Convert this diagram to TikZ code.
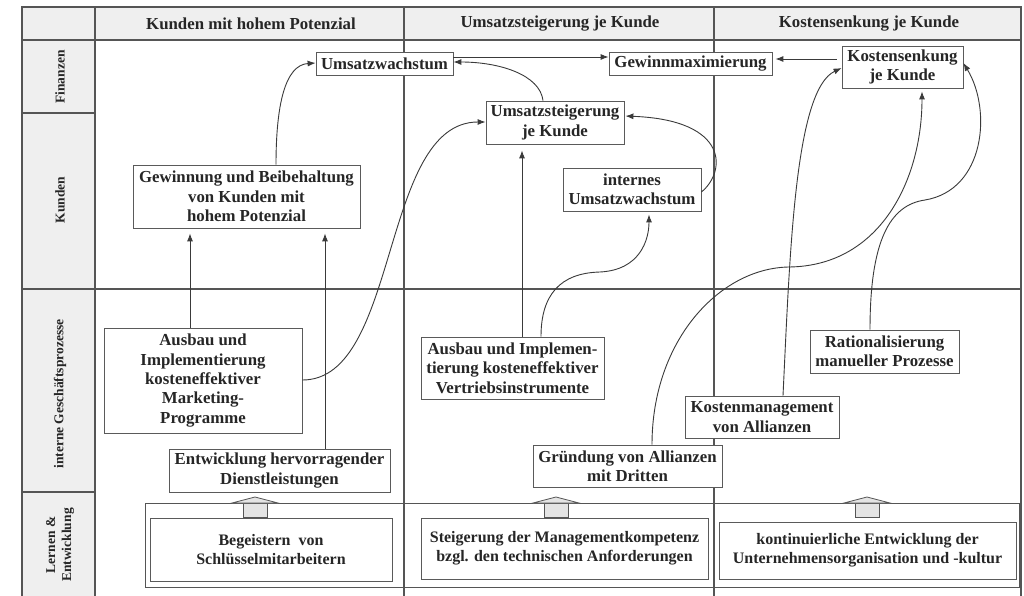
\documentclass[tikz,border=0pt]{standalone}
\usepackage{fontspec}
\setmainfont{Liberation Serif}
\usetikzlibrary{arrows.meta}
\definecolor{hdrc}{HTML}{EFEFEF}
\definecolor{gridc}{HTML}{555555}
\definecolor{boxc}{HTML}{5A5A5A}
\definecolor{linec}{HTML}{3A3A3A}
\definecolor{txtc}{HTML}{262626}
\definecolor{housec}{HTML}{E4E4E4}
\newcommand\mynodefont{\fontsize{16.8}{19.3}\selectfont\bfseries}
\newcommand\mybotfont{\fontsize{16}{18.7}\selectfont\bfseries}
\newcommand\mylabfont{\fontsize{13.5}{16}\selectfont\bfseries}
\tikzset{
  gridline/.style={draw=gridc, line width=1.1pt},
  thinline/.style={draw=gridc, line width=0.8pt},
  box/.style={draw=boxc, line width=0.8pt, fill=white, align=center, inner sep=0pt, font=\mynodefont, text=txtc},
  botbox/.style={box, font=\mybotfont},
  hdrtxt/.style={font=\mynodefont, text=txtc, inner sep=0pt},
  labtxt/.style={font=\mylabfont, text=txtc, inner sep=0pt, rotate=90, align=center},
  conn/.style={draw=linec, line width=0.9pt, -{Latex[length=8pt,width=6pt]}},
}
\begin{document}
\begin{tikzpicture}[x=1pt,y=-1pt]
\useasboundingbox (0,0) rectangle (1024,596);
\fill[white] (0,0) rectangle (1024,596);
% grid
\fill[hdrc] (22,7) rectangle (1021,40);
\fill[hdrc] (22,40) rectangle (95,596);
\draw[gridline] (22,596) -- (22,7) -- (1021,7) -- (1021,596);
\draw[gridline] (22,40) -- (1021,40);
\draw[gridline] (95,7) -- (95,596);
\draw[gridline] (404,7) -- (404,596);
\draw[gridline] (714,7) -- (714,596);
\draw[gridline] (22,113) -- (95,113);
\draw[gridline] (22,289) -- (1021,289);
\draw[gridline] (22,492) -- (95,492);
% headers
\node[hdrtxt] (h1) at (251,24) {Kunden mit hohem Potenzial};
\node[hdrtxt] (h2) at (560,24) {Umsatzsteigerung je Kunde};
\node[hdrtxt] (h3) at (869,24) {Kostensenkung je Kunde};
% row labels
\node[labtxt] (l1) at (60,77) {Finanzen};
\node[labtxt] (l2) at (60,200) {Kunden};
\node[labtxt] (l3) at (60,394) {interne Geschäftsprozesse};
\node[labtxt] (l4) at (60,545) {Lernen \&\\Entwicklung};
% learning frame
\draw[thinline] (145,503) rectangle (1019,587);
% house arrows
\foreach \cx in {255,556,867}{
  \draw[thinline, fill=housec] (\cx-12,503) rectangle (\cx+12,517);
  \draw[thinline, fill=housec] (\cx-23,503) -- (\cx,497) -- (\cx+23,503) -- cycle;
}
% nodes
\node[box, minimum width=137pt, minimum height=23pt] (umw) at (384.5,63.5) {Umsatzwachstum};
\node[box, minimum width=163pt, minimum height=23pt] (gmax) at (690.5,63.5) {Gewinnmaximierung};
\node[box, minimum width=121pt, minimum height=42pt] (kos) at (902.5,67) {Kostensenkung\\je Kunde};
\node[box, minimum width=138pt, minimum height=43pt] (usk) at (555,122.5) {Umsatzsteigerung\\je Kunde};
\node[box, minimum width=138pt, minimum height=43pt] (iuw) at (632,189.5) {internes\\Umsatzwachstum};
\node[box, minimum width=227pt, minimum height=63pt] (gew) at (246.5,196.5) {Gewinnung und Beibehaltung\\von Kunden mit\\hohem Potenzial};
\node[box, minimum width=198pt, minimum height=105pt] (mkt) at (203,380.5) {Ausbau und\\Implementierung\\kosteneffektiver\\Marketing-\\Programme};
\node[box, minimum width=221pt, minimum height=43pt] (ent) at (279.5,470.5) {Entwicklung hervorragender\\Dienstleistungen};
\node[box, minimum width=183pt, minimum height=62pt] (ver) at (512.5,368) {Ausbau und Implemen-\\tierung kosteneffektiver\\Vertriebsinstrumente};
\node[box, minimum width=189pt, minimum height=42pt] (gru) at (627.5,466) {Gründung von Allianzen\\mit Dritten};
\node[box, minimum width=154pt, minimum height=42pt] (kma) at (762,417) {Kostenmanagement\\von Allianzen};
\node[box, minimum width=149pt, minimum height=43pt] (rat) at (884.5,351.5) {Rationalisierung\\manueller Prozesse};
\node[botbox, minimum width=242pt, minimum height=63pt] (bg) at (271,549.5) {Begeistern~~von\\Schlüsselmitarbeitern};
\node[botbox, minimum width=287pt, minimum height=61pt] (stg) at (564.5,548.5) {Steigerung der Managementkompetenz\\bzgl. den technischen Anforderungen};
\node[botbox, minimum width=297pt, minimum height=57pt] (kon) at (867.5,550.5) {kontinuierliche Entwicklung der\\Unternehmensorganisation und -kultur};
% connectors
\draw[conn] ([yshift=6.5pt]umw.east) -- ([yshift=6.5pt]gmax.west);
\draw[conn, shorten <=5pt, shorten >=3pt] ([yshift=8pt]kos.west) -- ([yshift=4.5pt]gmax.east);
\draw[conn] ([xshift=-12pt]usk.north) .. controls (540,75) and (500,62) .. ([yshift=1.5pt]umw.east);
\draw[conn] ([xshift=29.5pt]gew.north) .. controls (276,105) and (285,65) .. ([yshift=0.5pt]umw.west);
\draw[conn, shorten >=5pt] ([xshift=-13pt]mkt.north) -- ([xshift=-56.5pt]gew.south);
\draw[conn, shorten >=5pt] ([xshift=45.5pt]ent.north) -- ([xshift=78.5pt]gew.south);
\draw[conn] ([yshift=0.5pt]mkt.east) .. controls (400,380) and (380,122) .. ([yshift=0.5pt]usk.west);
\draw[conn, shorten >=6pt] ([xshift=9.5pt]ver.north) -- ([xshift=-33pt]usk.south);
\draw[conn, shorten >=3pt] ([xshift=28.5pt]ver.north) .. controls (541,295) and (560,273) .. (600,272) .. controls (640,270) and (649,240) .. ([xshift=17pt]iuw.south);
\draw[conn, shorten >=1pt] ([yshift=-2.5pt]iuw.east) .. controls (726,172) and (730,120) .. ([yshift=6.5pt]usk.east);
\draw[conn, shorten >=3pt] ([xshift=24.5pt]gru.north) .. controls (652,340) and (720,268) .. (789,267) .. controls (880,266) and (922,180) .. ([xshift=19.5pt]kos.south);
\draw[conn] ([xshift=21pt]kma.north) .. controls (790,250) and (795,90) .. ([yshift=-1pt]kos.west);
\draw[conn] ([xshift=-14.5pt]rat.north) .. controls (870,240) and (890,205) .. (925,200) .. controls (985,190) and (992,110) .. ([yshift=4pt]kos.east);
\end{tikzpicture}
\end{document}
